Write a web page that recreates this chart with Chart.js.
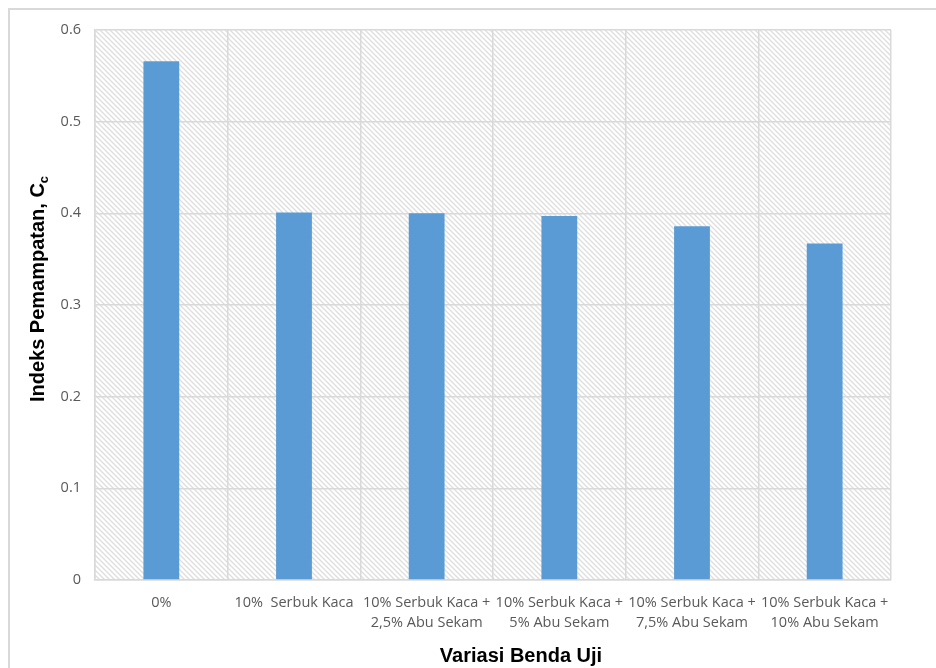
<!DOCTYPE html>
<html>
<head>
<meta charset="utf-8">
<script src="https://cdn.jsdelivr.net/npm/chart.js@4/dist/chart.umd.min.js"></script>
<style>
  html, body { margin: 0; padding: 0; background: #fff; overflow: hidden; }
  #wrap { position: relative; width: 936px; height: 668px; }
  #frame { position: absolute; left: 8px; top: 8px; width: 1100px; height: 1100px;
           border: 2px solid #d9d9d9; box-sizing: border-box; }
  canvas { position: absolute; left: 0; top: 0; }
</style>
</head>
<body>
<div id="wrap">
  <div id="frame"></div>
  <canvas id="c" width="936" height="668"></canvas>
</div>
<script>
// Specimen variations and their compression index
const categories = [
  ['0%'],
  ['10%  Serbuk Kaca'],
  ['10% Serbuk Kaca +', '2,5% Abu Sekam'],
  ['10% Serbuk Kaca +', '5% Abu Sekam'],
  ['10% Serbuk Kaca +', '7,5% Abu Sekam'],
  ['10% Serbuk Kaca +', '10% Abu Sekam']
];
const ccValues = [0.566, 0.401, 0.400, 0.397, 0.386, 0.367];
const yTicks = [0, 0.1, 0.2, 0.3, 0.4, 0.5, 0.6];
const xTitle = 'Variasi Benda Uji';
const yTitleMain = 'Indeks Pemampatan, C';
const yTitleSub = 'c';

// light downward-diagonal hatch for the plot background
function makeHatch() {
  const p = 5;
  const c = document.createElement('canvas');
  c.width = c.height = p;
  const g = c.getContext('2d');
  g.strokeStyle = '#dedede';
  g.lineWidth = 1.3;
  g.beginPath();
  g.moveTo(-1, -1); g.lineTo(p + 1, p + 1);
  g.moveTo(-1, p - 1); g.lineTo(1, p + 1);
  g.moveTo(p - 1, -1); g.lineTo(p + 1, 1);
  g.stroke();
  return g.createPattern(c, 'repeat');
}

const hatchBg = {
  id: 'hatchBg',
  beforeDraw(chart) {
    const { ctx, chartArea: a } = chart;
    ctx.save();
    ctx.fillStyle = makeHatch();
    ctx.fillRect(a.left, a.top, a.right - a.left, a.bottom - a.top);
    ctx.restore();
  }
};

const axisTitles = {
  id: 'axisTitles',
  afterDraw(chart) {
    const ctx = chart.ctx;
    ctx.save();
    ctx.fillStyle = '#000';
    ctx.font = 'bold 20px "Liberation Sans", Arial, sans-serif';
    ctx.textAlign = 'center';
    ctx.textBaseline = 'alphabetic';
    ctx.fillText(xTitle, 521, 662);

    // rotated y title with subscript
    const mainFont = 'bold 20px "Liberation Sans", Arial, sans-serif';
    const subFont = 'bold 13px "Liberation Sans", Arial, sans-serif';
    ctx.font = mainFont;
    const wm = ctx.measureText(yTitleMain).width;
    ctx.font = subFont;
    const ws = ctx.measureText(yTitleSub).width;
    ctx.translate(44, 289);
    ctx.rotate(-Math.PI / 2);
    ctx.textAlign = 'left';
    const x0 = -(wm + ws) / 2;
    ctx.font = mainFont;
    ctx.fillText(yTitleMain, x0, 0);
    ctx.font = subFont;
    ctx.fillText(yTitleSub, x0 + wm, 4);
    ctx.restore();
  }
};

new Chart(document.getElementById('c'), {
  type: 'bar',
  data: {
    labels: categories,
    datasets: [{
      data: ccValues,
      backgroundColor: '#5b9bd5',
      borderWidth: 0,
      categoryPercentage: 1,
      barPercentage: 0.27
    }]
  },
  options: {
    responsive: false,
    animation: false,
    devicePixelRatio: 1,
    layout: { padding: { top: 30, right: 45, left: 0, bottom: 0 } },
    plugins: { legend: { display: false }, tooltip: { enabled: false } },
    scales: {
      x: {
        offset: true,
        grid: { offset: true, color: '#d9d9d9', lineWidth: 1.5, drawTicks: false },
        border: { display: true, color: '#d9d9d9', width: 1.5 },
        ticks: {
          color: '#595959',
          font: { family: '"Open Sans", sans-serif', size: 14.5, lineHeight: 1.38 },
          padding: 13,
          maxRotation: 0,
          autoSkip: false
        },
        afterFit(scale) { scale.height = 88; }
      },
      y: {
        min: 0, max: 0.6,
        afterBuildTicks(scale) { scale.ticks = yTicks.map(v => ({ value: v })); },
        grid: { color: '#d9d9d9', lineWidth: 1.5, drawTicks: false },
        border: { display: true, color: '#d9d9d9', width: 1.5 },
        ticks: {
          color: '#595959',
          font: { family: '"Open Sans", sans-serif', size: 14.5 },
          padding: 14,
          callback: v => (v === 0 ? '0' : v.toFixed(1))
        },
        afterFit(scale) { scale.width = 95; }
      }
    }
  },
  plugins: [hatchBg, axisTitles]
});
</script>
</body>
</html>
